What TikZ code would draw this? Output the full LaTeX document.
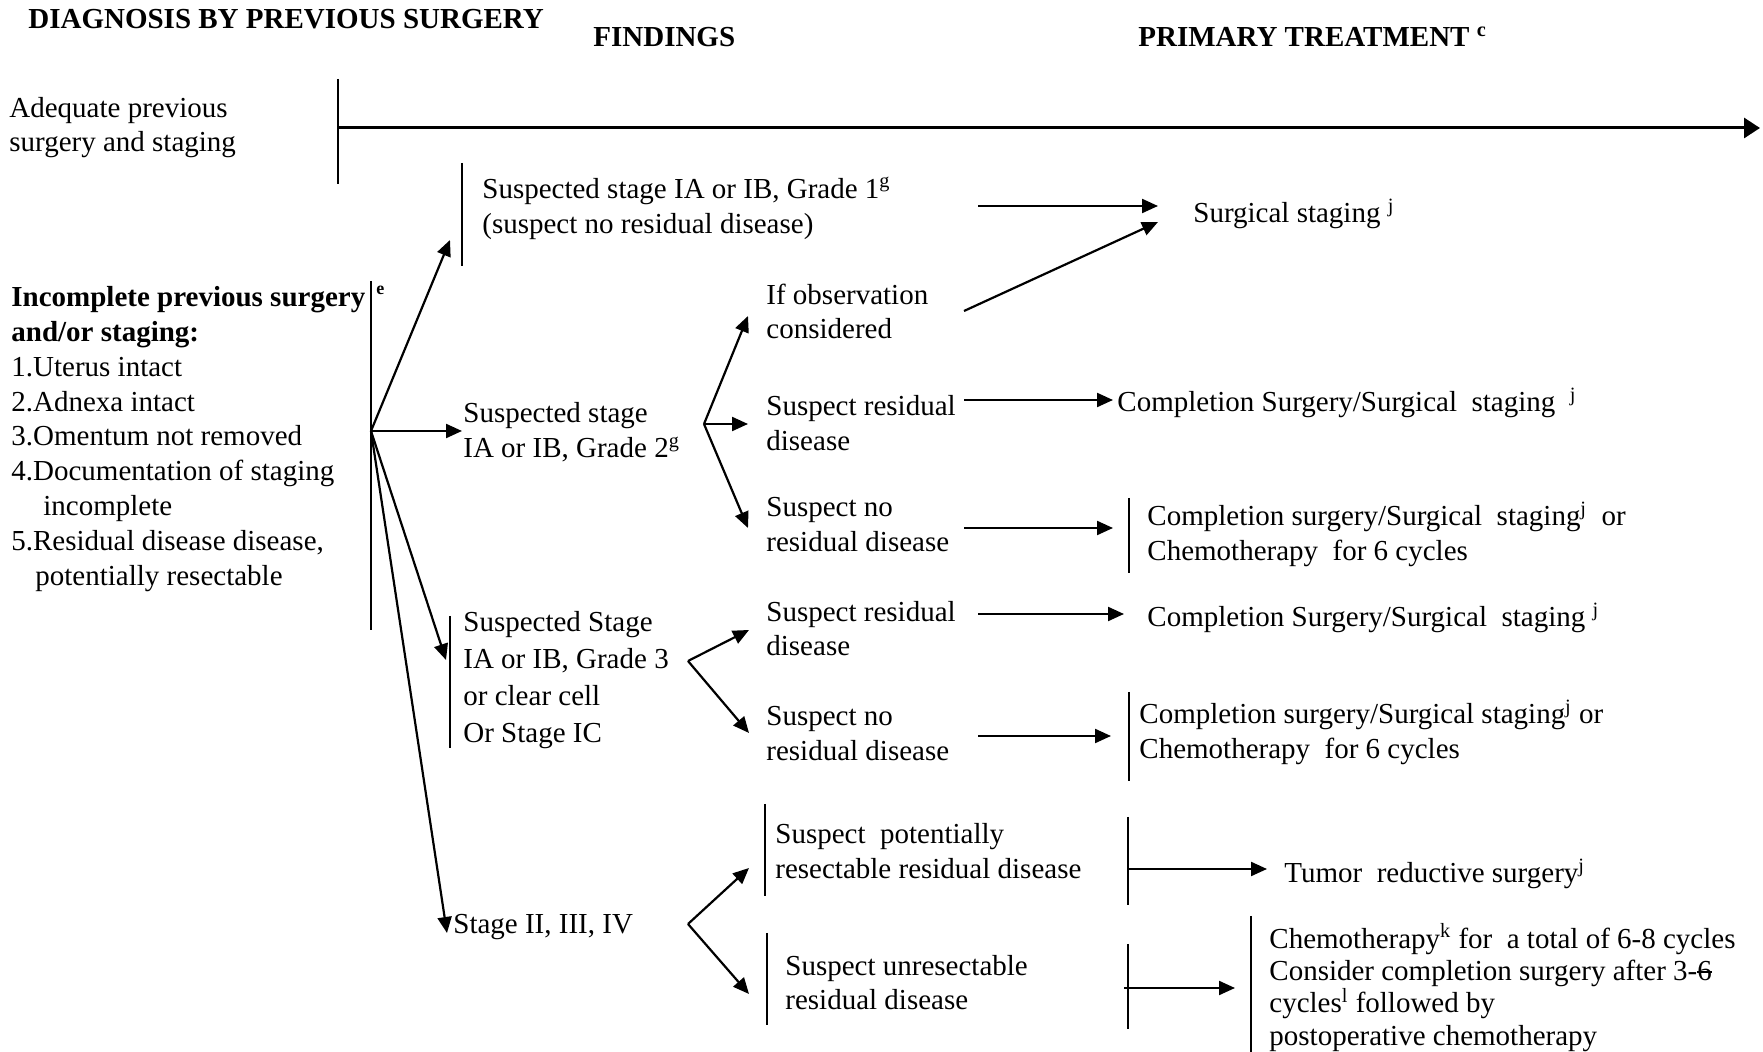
\documentclass[tikz,border=0pt]{standalone}
\usepackage{fontspec}
\setmainfont{Liberation Serif}
\usetikzlibrary{arrows.meta}
\newcommand\strikesix{\rlap{\rule[0.27em]{0.5em}{0.06em}}6}
\begin{document}
\begin{tikzpicture}[x=0.5pt,y=-0.5pt,
  txt/.style={anchor=west,inner sep=0pt,align=left,font=\fontsize{14.5}{17.4}\selectfont},
  hd/.style={anchor=west,inner sep=0pt,font=\fontsize{14.5}{17.4}\selectfont\bfseries},
  bar/.style={line width=0.8pt},
  arr/.style={line width=1.1pt,-{Triangle[length=8pt,width=7pt]}},
  bigarr/.style={line width=1.5pt,-{Triangle[length=8pt,width=10pt]}}]
\useasboundingbox (0,0) rectangle (1763,1052);

% headings
\node[hd] (h1) at (28,19) {DIAGNOSIS BY PREVIOUS SURGERY};
\node[hd] (h2) at (593,37) {FINDINGS};
\node[hd] (h3) at (1138,37) {PRIMARY TREATMENT \textsuperscript{c}};

% adequate
\node[txt] (adeq) at (9,127.5) {Adequate previous\\surgery and staging};
\coordinate (ab1) at (338,79); \coordinate (ab2) at (338,184);
\draw[bar] (ab1) -- (ab2);
\coordinate (as) at (338,128); \coordinate (ae) at (1760,128);
\draw[bigarr] (as) -- (ae);

% incomplete
\node[txt] (inc) at (11,439) {\textbf{Incomplete previous surgery}\\\textbf{and/or staging:}\\1.Uterus intact\\2.Adnexa intact\\3.Omentum not removed\\4.Documentation of staging\\\hspace*{16pt}incomplete\\5.Residual disease disease,\\\hspace*{12pt}potentially resectable};
\coordinate (ib1) at (371,281); \coordinate (ib2) at (371,630);
\draw[bar] (ib1) -- (ib2);
\node[anchor=west,inner sep=0pt,font=\fontsize{9}{10}\selectfont\bfseries] (esup) at (376,290) {e};
\coordinate (F0) at (371,431);

% grade 1
\coordinate (g1b1) at (462,163); \coordinate (g1b2) at (462,266);
\draw[bar] (g1b1) -- (g1b2);
\node[txt] (g1) at (482,208.5) {Suspected stage IA or IB, Grade 1\textsuperscript{g}\\(suspect no residual disease)};
\coordinate (g1tip) at (450,240);
\draw[arr] (F0) -- (g1tip);
\coordinate (g1s) at (978,206); \coordinate (g1e) at (1158,206);
\draw[arr] (g1s) -- (g1e);
\node[txt] (surg) at (1193,214) {Surgical staging \textsuperscript{j}};

% grade 2
\node[txt] (g2) at (463,432.5) {Suspected stage\\IA or IB, Grade 2\textsuperscript{g}};
\coordinate (g2tip) at (462,431);
\draw[arr] (F0) -- (g2tip);
\coordinate (F2) at (704,424);
\coordinate (t21) at (748,316); \coordinate (t22) at (748,424); \coordinate (t23) at (748,528);
\draw[arr] (F2) -- (t21);
\draw[arr] (F2) -- (t22);
\draw[arr] (F2) -- (t23);
\node[txt] (obs) at (766,311.5) {If observation\\considered};
\node[txt] (sr2) at (766,423) {Suspect residual\\disease};
\node[txt] (snr2) at (766,524.5) {Suspect no\\residual disease};
\coordinate (obss) at (964,311); \coordinate (obse) at (1158,222);
\draw[arr] (obss) -- (obse);
\coordinate (sr2s) at (964,400); \coordinate (sr2e) at (1113,400);
\draw[arr] (sr2s) -- (sr2e);
\node[txt] (cs2) at (1117,403) {Completion Surgery/Surgical\ \ staging\ \ \textsuperscript{j}};
\coordinate (snr2s) at (964,528); \coordinate (snr2e) at (1113,528);
\draw[arr] (snr2s) -- (snr2e);
\coordinate (c2b1) at (1129,498); \coordinate (c2b2) at (1129,573);
\draw[bar] (c2b1) -- (c2b2);
\node[txt] (cc2) at (1147,534.5) {Completion surgery/Surgical\ \ staging\textsuperscript{j}\ \ or\\Chemotherapy\ \ for 6 cycles};

% grade 3
\coordinate (g3b1) at (450,616); \coordinate (g3b2) at (450,748);
\draw[bar] (g3b1) -- (g3b2);
\node[txt,font=\fontsize{14.5}{18.4}\selectfont] (g3) at (463,680) {Suspected Stage\\IA or IB, Grade 3\\or clear cell\\Or Stage IC};
\coordinate (g3tip) at (446,660);
\draw[arr] (F0) -- (g3tip);
\coordinate (F3) at (688,661);
\coordinate (t31) at (749,630); \coordinate (t32) at (749,733);
\draw[arr] (F3) -- (t31);
\draw[arr] (F3) -- (t32);
\node[txt] (sr3) at (766,628.5) {Suspect residual\\disease};
\node[txt] (snr3) at (766,733.5) {Suspect no\\residual disease};
\coordinate (sr3s) at (978,614); \coordinate (sr3e) at (1124,614);
\draw[arr] (sr3s) -- (sr3e);
\node[txt] (cs3) at (1147,618) {Completion Surgery/Surgical\ \ staging \textsuperscript{j}};
\coordinate (snr3s) at (978,736); \coordinate (snr3e) at (1111,736);
\draw[arr] (snr3s) -- (snr3e);
\coordinate (c3b1) at (1129,692); \coordinate (c3b2) at (1129,781);
\draw[bar] (c3b1) -- (c3b2);
\node[txt] (cc3) at (1139,732.5) {Completion surgery/Surgical\ staging\textsuperscript{j}\ or\\Chemotherapy\ \ for 6 cycles};

% stage II-IV
\node[txt] (s2) at (453,927) {Stage II, III, IV};
\coordinate (s2tip) at (447,933);
\draw[arr] (F0) -- (s2tip);
\coordinate (F4) at (688,924);
\coordinate (t41) at (749,868); \coordinate (t42) at (749,994);
\draw[arr] (F4) -- (t41);
\draw[arr] (F4) -- (t42);
\coordinate (p1) at (765,804); \coordinate (p2) at (765,896);
\draw[bar] (p1) -- (p2);
\node[txt] (spr) at (775,851) {Suspect\ \ potentially\\resectable residual disease};
\coordinate (q1) at (1128,817); \coordinate (q2) at (1128,905);
\draw[bar] (q1) -- (q2);
\coordinate (trs) at (1128,869); \coordinate (tre) at (1267,869);
\draw[arr] (trs) -- (tre);
\node[txt] (tum) at (1284,874) {Tumor\ \ reductive surgery\textsuperscript{j}};
\coordinate (u1) at (767,933); \coordinate (u2) at (767,1025);
\draw[bar] (u1) -- (u2);
\node[txt] (sur) at (785,982.5) {Suspect unresectable\\residual disease};
\coordinate (v1) at (1128,944); \coordinate (v2) at (1128,1029);
\draw[bar] (v1) -- (v2);
\coordinate (chs) at (1124,988); \coordinate (che) at (1235,988);
\draw[arr] (chs) -- (che);
\coordinate (w1) at (1251,916); \coordinate (w2) at (1251,1052);
\draw[bar] (w1) -- (w2);
\node[txt,font=\fontsize{14.5}{16.2}\selectfont] (chemo) at (1269,987.5) {Chemotherapy\textsuperscript{k} for\ \ a total of 6-8 cycles\\Consider completion surgery after 3-\strikesix\\cycles\textsuperscript{l} followed by\\postoperative chemotherapy};
\end{tikzpicture}
\end{document}
